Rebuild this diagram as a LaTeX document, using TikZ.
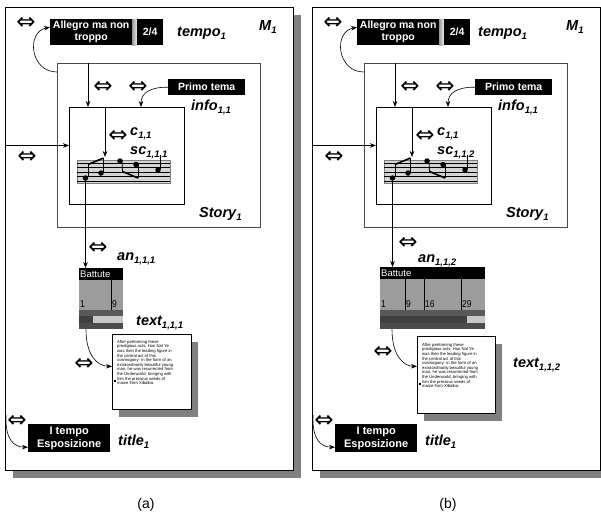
\documentclass[tikz,border=0pt]{standalone}
\usepackage{fontspec}
\setmainfont{Liberation Sans}
\newfontfamily\djv{DejaVu Sans}
\usetikzlibrary{arrows.meta,shadows}
\definecolor{shadowgray}{HTML}{808080}
\definecolor{storyedge}{HTML}{4A4A4A}
\definecolor{widgetgray}{HTML}{9C9C9C}
\definecolor{staffbg}{HTML}{D4D4D4}
\newcommand\sbs[1]{\raisebox{-3.2pt}{\fontsize{9.5}{9.5}\selectfont #1}}
\tikzset{
  lbl/.style={anchor=base west, inner sep=0pt, font=\fontsize{14.5}{16}\selectfont\bfseries\itshape},
  dbl/.style={inner sep=0pt, font=\djv\fontsize{23}{23}\selectfont},
  blackbox/.style={fill=black, text=white, align=center, inner sep=0pt, anchor=north west,
     font=\fontsize{10.5}{12}\selectfont\bfseries},
  arr/.style={-{Stealth[length=6pt,width=4.5pt]}, line width=0.6pt},
  framebox/.style={draw=black, line width=1.2pt, fill=white, anchor=north west, inner sep=0pt,
     drop shadow={shadow xshift=7pt, shadow yshift=-7pt, fill=shadowgray, opacity=1}},
  storybox/.style={draw=storyedge, line width=0.8pt, fill=white, anchor=north west, inner sep=0pt},
  innerbox/.style={draw=black, line width=0.9pt, fill=white, anchor=north west, inner sep=0pt},
  staffbox/.style={fill=staffbg, draw=gray, line width=0.4pt, anchor=north west, inner sep=0pt},
  notehead/.style={circle, fill=black, inner sep=0pt, minimum size=5.5pt},
  stem/.style={line width=0.8pt},
  beam/.style={line width=1.6pt},
  widget/.style={fill=widgetgray, anchor=north west, inner sep=0pt},
  whead/.style={anchor=west, inner sep=0pt, text=white, font=\fontsize{9.5}{10}\selectfont},
  wnum/.style={anchor=base west, inner sep=0pt, font=\fontsize{10}{10}\selectfont, xscale=0.85},
  docbox/.style={draw=black, line width=0.8pt, fill=white, anchor=north west, inner sep=0pt,
     drop shadow={shadow xshift=7pt, shadow yshift=-8pt, fill=shadowgray, opacity=1}},
  doctext/.style={anchor=north west, inner sep=0pt, align=left, font=\fontsize{4.2}{4.6}\selectfont},
  caption/.style={inner sep=0pt, font=\fontsize{14}{16}\selectfont},
}
\newcommand\panel[2]{%
\begin{scope}[xshift=#2]
\node[framebox, minimum width=288pt, minimum height=463pt] (#1frame) at (5,7) {};
\node[dbl] (#1dA) at (26,23) {⇔};
\node[blackbox, minimum width=82pt, minimum height=26pt] (#1allegro) at (50,19) {Allegro ma non\\troppo};
\shade[left color=gray!80, right color=gray!15] (132,19) rectangle (137,45);
\node[blackbox, minimum width=26pt, minimum height=26pt] (#1meter) at (137,19) {2/4};
\node[lbl] (#1M) at (259,30) {M\sbs{1}};
\node[storybox, minimum width=203pt, minimum height=164pt] (#1story) at (57,63) {};
\draw[arr] ([yshift=-9pt]#1story.north west) .. controls (30,72) and (26,32) .. ([yshift=5pt]#1allegro.west);
\node[dbl] (#1dB) at (103,87) {⇔};
\node[dbl] (#1dC) at (138,87) {⇔};
\node[blackbox, minimum width=77pt, minimum height=16pt] (#1primo) at (168,79) {Primo tema};
\node[lbl] (#1info) at (191,110) {info\sbs{1,1}};
\node[innerbox, minimum width=115pt, minimum height=97pt] (#1inner) at (69,107) {};
\coordinate (#1pA) at ([xshift=19pt]#1inner.north west);
\draw[arr] (#1pA |- #1story.north) -- (#1pA);
\draw[arr] (#1primo.west) .. controls (150,87) and (141,93) .. ([xshift=72pt]#1inner.north west);
\node[dbl] (#1dD) at (118,136) {⇔};
\node[lbl] (#1c) at (130,135.5) {c\sbs{1,1}};
\node[staffbox, minimum width=93pt, minimum height=23pt] (#1staff) at (77,160) {};
\foreach \yy in {163,167.5,172,176.5,181} \draw[line width=0.5pt] (77,\yy) -- (170,\yy);
\node[notehead] (#1n1) at (85.5,178) {};
\node[notehead] (#1n2) at (101,173) {};
\node[notehead] (#1n3) at (120,161) {};
\node[notehead] (#1n4) at (136,164.5) {};
\node[notehead] (#1n5) at (158,170) {};
\draw[stem] (88,177) -- (88,164);
\draw[stem] (103.5,172) -- (103.5,158);
\draw[beam] (88,164.5) -- (103.5,158);
\draw[stem] (122,161) -- (122.5,172);
\draw[stem] (138,164) -- (138,178);
\draw[beam] (122.5,171.5) -- (138,178);
\draw[stem] (160.5,169) -- (160.5,155);
\coordinate (#1beamR) at (104.5,157);
\coordinate (#1pB) at ([xshift=36pt]#1inner.north west);
\draw[arr] (#1pB) -- (#1pB |- #1beamR);
\coordinate (#1pC) at ([yshift=10.5pt]#1inner.west);
\draw[arr] (#1frame.west |- #1pC) -- (#1pC);
\node[dbl] (#1dE) at (27,157) {⇔};
\node[lbl] (#1storylbl) at (199,217) {Story\sbs{1}};
\node[dbl] (#1dF) at (17,421) {⇔};
\node[blackbox, minimum width=82pt, minimum height=28pt, font=\fontsize{11}{12.5}\selectfont\bfseries] (#1title) at (28,424) {I tempo\\Esposizione};
\coordinate (#1pD) at (6,415);
\draw[arr] (#1pD) .. controls (5,440) and (14,447) .. ([yshift=-9pt]#1title.west);
\node[lbl] (#1titlelbl) at (118,445) {title\sbs{1}};
\end{scope}}
\newcommand\doctxt{After performing these\\prodigious acts, Hun Nal Ye\\was then the leading figure in\\the central act of this\\cosmogony: in the form of an\\extraordinarily beautiful young\\man, he was resurrected from\\the Underworld, bringing with\\him the precious seeds of\\maize from Xibalba.}
\begin{document}
\begin{tikzpicture}[x=1pt,y=-1pt]
\useasboundingbox[fill=white] (0,0) rectangle (601,523);
% ---------- panel (a)
\panel{a}{0pt}
\node[lbl] (atempo) at (177,36) {tempo\sbs{1}};
\node[lbl] (asc) at (130,154) {sc\sbs{1,1,1}};
\node[dbl] (adG) at (98,248) {⇔};
\node[lbl] (aan) at (117,260) {an\sbs{1,1,1}};
\node[widget, minimum width=44pt, minimum height=61pt] (abat) at (79,268) {};
\fill[black] (79,268) rectangle (123,279.5);
\node[whead] (abathead) at (80,274) {Battute};
\draw[line width=0.8pt] (111,279.5) -- (111,310);
\node[wnum] (abn1) at (80,307) {1};
\node[wnum] (abn2) at (112,307) {9};
\fill[black!65] (79,310) rectangle (123,316);
\fill[black!75] (79,316) rectangle (93,323);
\fill[black!22] (93,316) rectangle (123,323);
\fill[black!70] (79,323) rectangle (123,329);
\draw[arr] (an1) -- (an1 |- abat.north);
\node[docbox, minimum width=79pt, minimum height=75pt] (adoc) at (112,334) {};
\node[doctext] (adoctext) at (117,340) {\doctxt};
\fill (113.5,380) rectangle (115.5,382);
\draw[arr] ([xshift=7pt]abat.south west) .. controls (86,355) and (97,366) .. ([yshift=5.5pt]adoc.west);
\node[dbl] (adH) at (84,364) {⇔};
\node[lbl] (atext) at (136,325) {text\sbs{1,1,1}};
% ---------- panel (b)
\panel{b}{307pt}
\node[lbl] (btempo) at (478,36) {tempo\sbs{1}};
\node[lbl] (bsc) at (437,154) {sc\sbs{1,1,2}};
\node[dbl] (bdG) at (408,243) {⇔};
\node[lbl] (ban) at (418,262) {an\sbs{1,1,2}};
\node[widget, minimum width=105pt, minimum height=62pt] (bbat) at (380,267) {};
\fill[black] (380,267) rectangle (485,278.5);
\node[whead] (bbathead) at (381,273) {Battute};
\foreach \xx in {405,424,461} \draw[line width=0.8pt] (\xx,278.5) -- (\xx,310);
\node[wnum] (bbn1) at (381,307) {1};
\node[wnum] (bbn2) at (406,307) {9};
\node[wnum] (bbn3) at (425,307) {16};
\node[wnum] (bbn4) at (462,307) {29};
\fill[black!65] (380,310) rectangle (485,316);
\fill[black!75] (380,316) rectangle (467,323);
\fill[black!22] (467,316) rectangle (485,323);
\fill[black!70] (380,323) rectangle (485,329);
\draw[arr] (bn1) -- (bn1 |- bbat.north);
\node[docbox, minimum width=78pt, minimum height=77pt] (bdoc) at (417,336) {};
\node[doctext] (bdoctext) at (422,343) {\doctxt};
\fill (418.5,383) rectangle (420.5,385);
\draw[arr] ([xshift=12pt]bbat.south west) .. controls (392,355) and (403,366) .. ([yshift=8.5pt]bdoc.west);
\node[dbl] (bdH) at (383,352) {⇔};
\node[lbl] (btext) at (513,367) {text\sbs{1,1,2}};
% ---------- captions
\node[caption] (capa) at (146,505) {(a)};
\node[caption] (capb) at (448,505) {(b)};
\end{tikzpicture}
\end{document}
